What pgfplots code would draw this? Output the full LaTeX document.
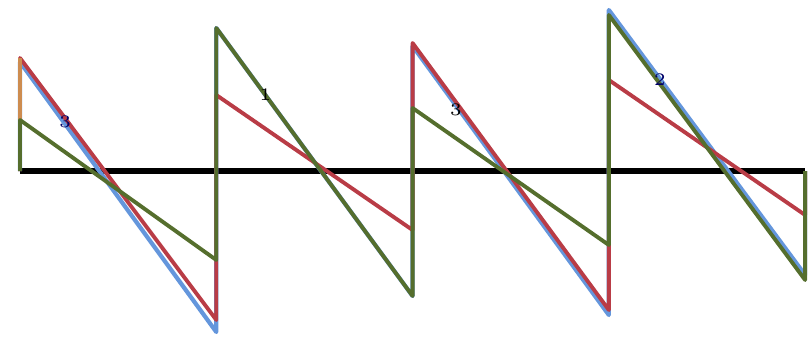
\documentclass[border=0pt]{standalone}
\usepackage{pgfplots}
\pgfplotsset{compat=1.18}
\definecolor{cblue}{RGB}{100,150,220}
\definecolor{cred}{RGB}{185,60,70}
\definecolor{cgreen}{RGB}{85,110,45}
\definecolor{corange}{RGB}{205,140,80}
\begin{document}
\begin{tikzpicture}
\begin{axis}[
  scale only axis, width=8.11cm, height=3.37cm,
  xmin=-0.102, xmax=4.03, ymin=-166, ymax=171,
  axis lines=none, clip=false, ticks=none,
]
\path (rel axis cs:0,0) rectangle (rel axis cs:1,1);
\addplot[black, line width=1.5pt] coordinates {(0,0) (4,0)};
\addplot[cblue, line width=1.2pt, line join=round] coordinates {(0,0)(0,109)(1,-161)(1,143)(2,-125)(2,125)(3,-144)(3,161)(4,-104)(4,0)};
\addplot[cred, line width=1.1pt, line join=round] coordinates {(0,0)(0,113)(1,-149)(1,76)(2,-59)(2,128)(3,-139)(3,91)(4,-44)(4,0)};
\addplot[corange, line width=1.1pt] coordinates {(0,51)(0,113)};
\addplot[cgreen, line width=1.1pt, line join=round] coordinates {(0,0)(0,51)(1,-89)(1,143)(2,-125)(2,63)(3,-74)(3,156)(4,-109)(4,0)};
\node[font=\tiny, text=blue!40!black] at (axis cs:0.23,49) {3};
\node[font=\tiny, text=black] at (axis cs:1.25,76) {1};
\node[font=\tiny, text=black] at (axis cs:2.22,61) {3};
\node[font=\tiny, text=blue!40!black] at (axis cs:3.26,91) {2};
\end{axis}
\end{tikzpicture}
\end{document}
